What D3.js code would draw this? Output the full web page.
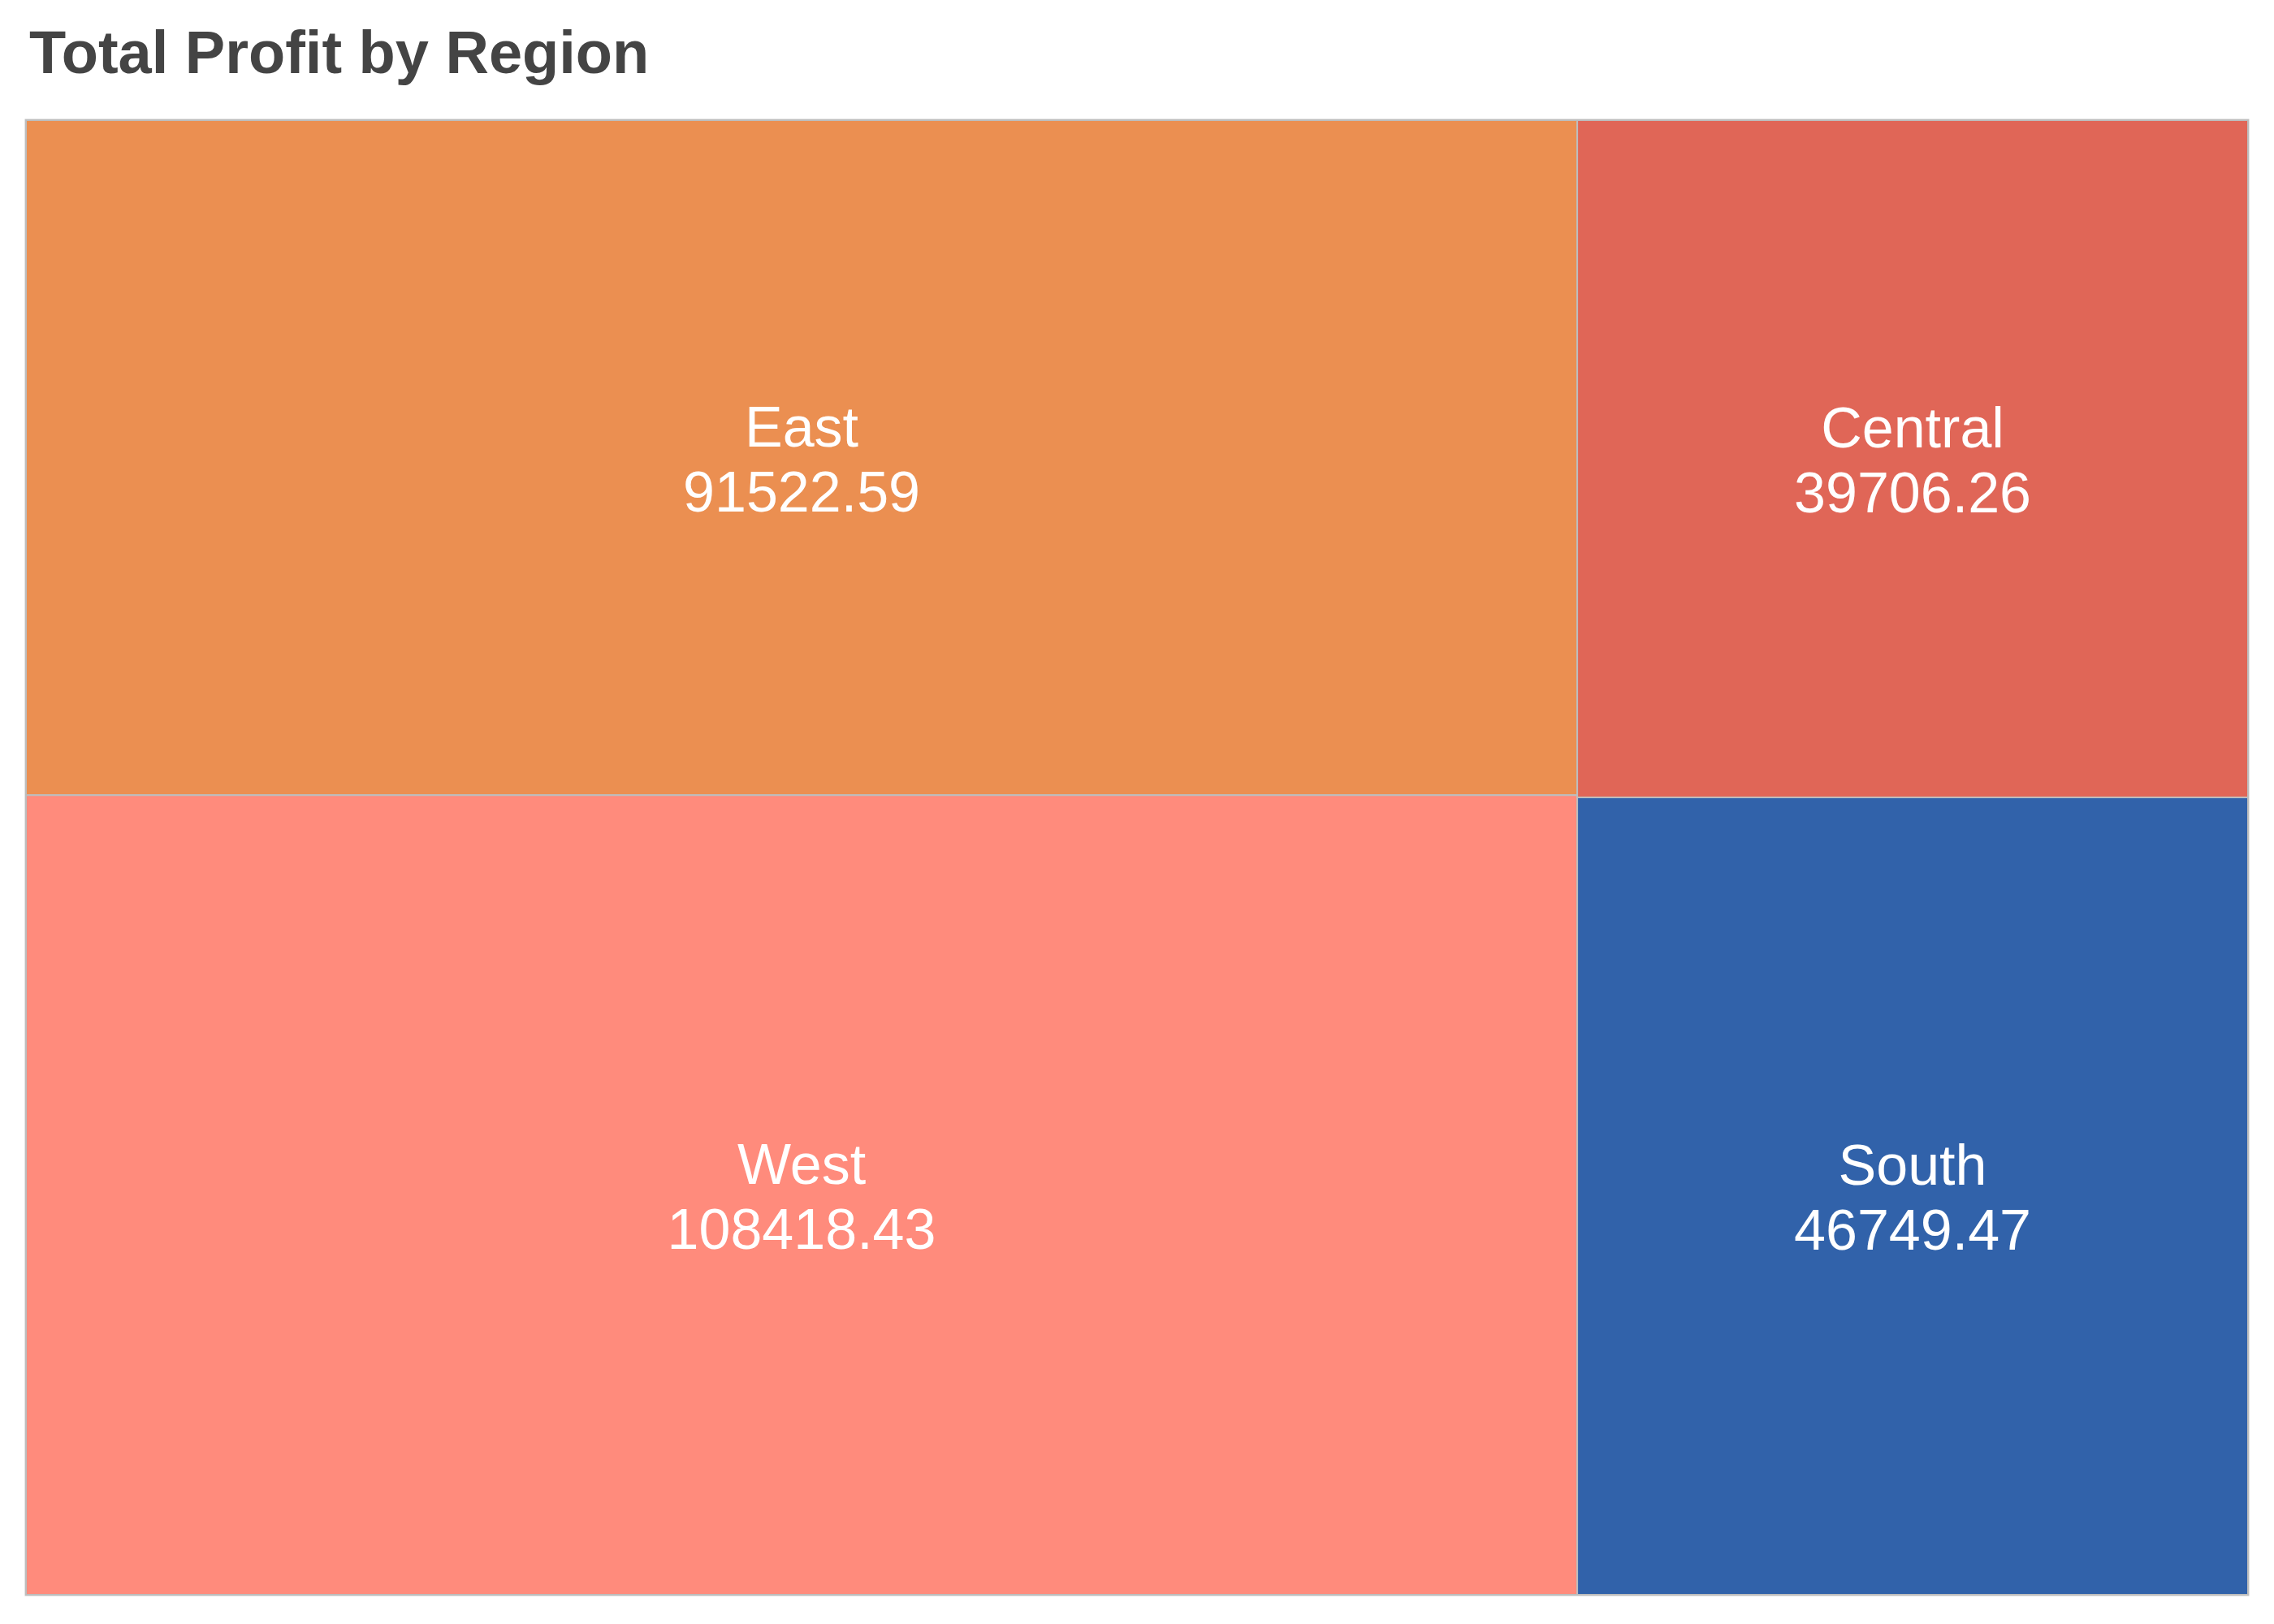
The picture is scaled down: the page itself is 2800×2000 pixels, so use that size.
<!DOCTYPE html>
<html>
<head>
<meta charset="utf-8">
<script src="https://cdn.jsdelivr.net/npm/d3@7"></script>
<style>
body { margin: 0; background: #fff; }
text { font-family: "Liberation Sans", Arial, sans-serif; }
</style>
</head>
<body>
<div id="chart"></div>
<script>
var svgWidth = 2800;
var svgHeight = 2000;

// data, grouped by treemap column
var regions = ["East", "West", "Central", "South"];
var profits = [91522.59, 108418.43, 39706.26, 46749.47];
var columns = [["East", "West"], ["Central", "South"]];
var colors = {East: "#EB8F51", West: "#FF8B7C", Central: "#E06657", South: "#3162AA"};

var margin = {top: 148, right: 32, bottom: 36, left: 32};

var svg = d3.select("#chart")
  .append("svg")
  .attr("width", svgWidth)
  .attr("height", svgHeight);

svg.append("text")
  .attr("x", 36)
  .attr("y", 90)
  .attr("font-size", 74)
  .attr("font-weight", "bold")
  .attr("fill", "#444")
  .text("Total Profit by Region");

var tree = {
  name: "root",
  children: columns.map(function(col, i) {
    return {
      name: "col" + i,
      children: col.map(function(r) {
        return {name: r, value: profits[regions.indexOf(r)]};
      })
    };
  })
};

var root = d3.hierarchy(tree).sum(d => d.value || 0);

d3.treemap()
  .tile(d3.treemapSliceDice)
  .size([svgWidth - margin.left - margin.right, svgHeight - margin.top - margin.bottom])
  (root);

var chartGroup = svg.append("g")
  .attr("transform", `translate(${margin.left}, ${margin.top})`);

chartGroup.append("rect")
  .attr("x", 0).attr("y", 0)
  .attr("width", root.x1 - root.x0)
  .attr("height", root.y1 - root.y0)
  .attr("fill", "none")
  .attr("stroke", "#c8c8c8")
  .attr("stroke-width", 3);

var leaves = chartGroup.selectAll("g.leaf")
  .data(root.leaves())
  .enter()
  .append("g")
  .attr("class", "leaf");

leaves.append("rect")
  .attr("x", d => d.x0)
  .attr("y", d => d.y0)
  .attr("width", d => d.x1 - d.x0)
  .attr("height", d => d.y1 - d.y0)
  .attr("fill", d => colors[d.data.name])
  .attr("stroke", "#bdbdbd")
  .attr("stroke-width", 2);

leaves.append("text")
  .attr("x", d => (d.x0 + d.x1) / 2)
  .attr("y", d => (d.y0 + d.y1) / 2 - 14)
  .attr("text-anchor", "middle")
  .attr("font-size", 70)
  .attr("fill", "#fff")
  .text(d => d.data.name);

leaves.append("text")
  .attr("x", d => (d.x0 + d.x1) / 2)
  .attr("y", d => (d.y0 + d.y1) / 2 + 66)
  .attr("text-anchor", "middle")
  .attr("font-size", 70)
  .attr("fill", "#fff")
  .text(d => d.data.value.toFixed(2));
</script>
</body>
</html>
